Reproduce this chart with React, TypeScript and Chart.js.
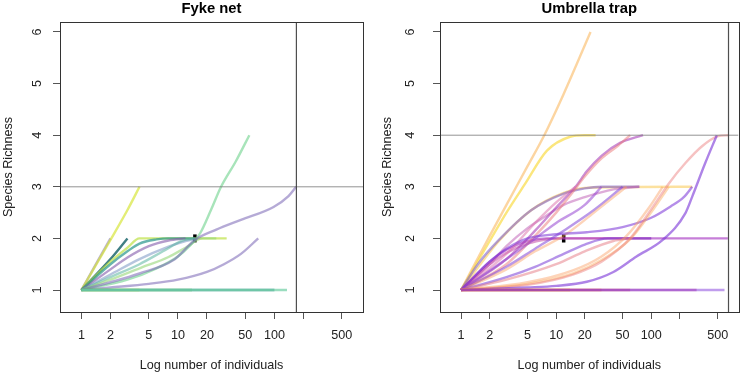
import React, { useEffect, useRef } from 'react';
import { Chart, registerables } from 'chart.js';
Chart.register(...registerables);

type Pt = [number, number];

// ---------- shared axes ----------
const xTicks = [1, 2, 5, 10, 20, 50, 100, 200, 500];
const xTickLabels = ['1', '2', '5', '10', '20', '50', '100', '', '500'];
const yTicks = [1, 2, 3, 4, 5, 6];
const xMin = 0.615;
const xMax = 828;
const yMin = 0.574;
const yMax = 6.194;
const xTitle = 'Log number of individuals';
const yTitle = 'Species Richness';

// ---------- Fyke net (rarefaction curves: [individuals, richness]) ----------
const fykeTitle = 'Fyke net';
const fyke01: Pt[] = [[1, 1], [135, 1]];
const fyke02: Pt[] = [[1, 1], [100, 1]];
const fyke03: Pt[] = [[1, 1], [14, 1]];
const fyke04: Pt[] = [[1, 1], [4, 1]];
const fyke05: Pt[] = [[1, 1], [2, 1.05], [5, 1.12], [10, 1.2], [20, 1.35], [30, 1.5], [45, 1.7], [68, 2]];
const fyke06: Pt[] = [[1, 1], [2, 1.15], [4, 1.32], [9, 1.58], [15, 1.97], [25, 2.17], [45, 2.36], [98, 2.61], [140, 2.82], [168, 3]];
const fyke07: Pt[] = [[1, 1], [3, 1.2], [6, 1.42], [10, 1.65], [13, 1.84], [17, 2.1], [22, 2.55], [28, 3], [40, 3.5], [55, 4]];
const fyke08: Pt[] = [[1, 1], [2, 1.2], [4, 1.42], [8, 1.64], [12, 1.82], [18, 2], [25, 2]];
const fyke09: Pt[] = [[1, 1], [2, 1.25], [4, 1.5], [7, 1.75], [11, 1.95], [15, 2]];
const fyke10: Pt[] = [[1, 1], [2, 1.3], [4, 1.6], [8, 1.84], [12, 1.95], [16, 2]];
const fyke11: Pt[] = [[1, 1], [2, 1.4], [3, 1.63], [5, 1.85], [8, 1.96], [12, 2]];
const fyke12: Pt[] = [[1, 1], [2, 1.5], [3, 1.75], [4, 1.9], [6, 1.98], [8, 2], [15, 2]];
const fyke13: Pt[] = [[1, 1], [2, 1.55], [3, 1.82], [4, 2], [32, 2]];
const fyke14: Pt[] = [[1, 1], [2, 1.6], [3, 2]];
const fyke15: Pt[] = [[1, 1], [2, 1.97], [3, 2.55], [4, 3]];
const fyke16: Pt[] = [[1, 1], [2, 2]];
const fykeCurves = [fyke01, fyke02, fyke03, fyke04, fyke05, fyke06, fyke07, fyke08, fyke09, fyke10, fyke11, fyke12, fyke13, fyke14, fyke15, fyke16];
const fykeMarkerN = 15;
const fykeMarkerS = 2;
const fykeRefN = 169;
const fykeRefS = 3;

// ---------- Umbrella trap ----------
const umbTitle = 'Umbrella trap';
const umb01: Pt[] = [[1, 1], [590, 1]];
const umb02: Pt[] = [[1, 1], [300, 1]];
const umb03: Pt[] = [[1, 1], [60, 1]];
const umb04: Pt[] = [[1, 1], [30, 1]];
const umb05: Pt[] = [[1, 1], [14, 1]];
const umb06: Pt[] = [[1, 1], [5, 1.05], [10, 1.08], [21, 1.16], [40, 1.35], [70, 1.65], [132, 1.97], [229, 2.49], [270, 2.81], [370, 3.46], [490, 4]];
const umb07: Pt[] = [[1, 1], [5, 1.1], [15, 1.3], [30, 1.55], [60, 2], [104, 2.61], [154, 3.07], [229, 3.46], [340, 3.78], [505, 3.98], [650, 4]];
const umb08: Pt[] = [[1, 1], [5, 1.12], [15, 1.32], [30, 1.58], [59, 1.97], [104, 2.55], [153, 3]];
const umb09: Pt[] = [[1, 1], [5, 1.15], [15, 1.38], [30, 1.65], [55, 2.05], [95, 2.6], [132, 3]];
const umb10: Pt[] = [[1, 1], [2, 1.55], [3, 1.8], [5, 2], [10, 2.08], [21, 2.12], [50, 2.22], [100, 2.4], [160, 2.62], [220, 2.8], [270, 3]];
const umb11: Pt[] = [[1, 1], [3, 1.2], [10, 1.5], [20, 1.75], [40, 1.95], [60, 2]];
const umb12: Pt[] = [[1, 1], [3, 1.25], [6, 1.45], [12, 1.7], [20, 1.88], [35, 2], [100, 2]];
const umb13: Pt[] = [[1, 1], [3, 1.4], [6, 1.75], [12, 2.05], [25, 2.5], [55, 3]];
const umb14: Pt[] = [[1, 1], [3, 1.45], [6, 1.8], [12, 2.15], [25, 2.55], [50, 3]];
const umb15: Pt[] = [[1, 1], [3, 1.6], [6, 2], [10, 2.3], [20, 2.65], [30, 3]];
const umb16: Pt[] = [[1, 1], [3, 1.7], [6, 2.3], [10, 2.7], [16, 3]];
const umb17: Pt[] = [[1, 1], [3, 1.5], [6, 2.05], [10, 2.5], [15, 2.9], [20, 3.2], [30, 3.55], [45, 3.8], [60, 4]];
const umb18: Pt[] = [[1, 1], [3, 1.6], [6, 2.15], [10, 2.6], [16, 3], [21, 3.3], [30, 3.6], [47, 3.85], [82, 4]];
const umb19: Pt[] = [[1, 1], [2, 1.5], [3, 1.72], [5, 1.9], [8, 1.98], [12, 2], [100, 2]];
const umb20: Pt[] = [[1, 1], [2, 1.55], [3, 1.78], [5, 1.95], [8, 2], [640, 2]];
const umb21: Pt[] = [[1, 1], [2, 1.5], [3, 1.85], [5, 2.2], [8, 2.45], [12, 2.65], [20, 2.8], [40, 2.95], [75, 3]];
const umb22: Pt[] = [[1, 1], [1.5, 1.5], [2.5, 1.97], [5.5, 2.55], [12, 2.87], [20, 2.97], [30, 3], [75, 3]];
const umb23: Pt[] = [[1, 1], [2.5, 1.95], [5.5, 2.55], [12, 2.88], [20, 2.98], [270, 3]];
const umb24: Pt[] = [[1, 1], [2, 1.95], [3, 2.5], [4.76, 3.07], [8, 3.7], [14, 3.97], [20, 4], [26, 4]];
const umb25: Pt[] = [[1, 1], [2, 2.05], [3, 2.65], [5, 3.4], [7.5, 4], [12, 4.8], [23, 6]];
const umbCurves = [umb01, umb02, umb03, umb04, umb05, umb06, umb07, umb08, umb09, umb10, umb11, umb12, umb13, umb14, umb15, umb16, umb17, umb18, umb19, umb20, umb21, umb22, umb23, umb24, umb25];
const umbMarkerN = 12;
const umbMarkerS = 2;
const umbRefN = 650;
const umbRefS = 4;

// ---------- styles ----------
const fykeColors = [
  'rgba(120,210,170,0.75)', 'rgba(40,140,135,0.8)', 'rgba(110,200,80,0.75)', 'rgba(200,225,60,0.75)',
  'rgba(120,100,180,0.55)', 'rgba(120,100,180,0.55)', 'rgba(110,210,140,0.6)', 'rgba(150,215,120,0.6)',
  'rgba(90,180,160,0.55)', 'rgba(110,140,190,0.5)', 'rgba(130,90,170,0.6)', 'rgba(40,150,140,0.7)',
  'rgba(190,225,70,0.7)', 'rgba(30,105,110,0.85)', 'rgba(215,230,60,0.7)', 'rgba(130,110,190,0.55)'
];
const umbColors = [
  'rgba(130,60,220,0.5)', 'rgba(190,50,150,0.5)', 'rgba(225,100,100,0.5)', 'rgba(240,140,60,0.55)', 'rgba(250,200,40,0.8)',
  'rgba(120,50,215,0.6)', 'rgba(235,120,120,0.45)', 'rgba(250,170,90,0.45)', 'rgba(250,160,100,0.45)', 'rgba(120,50,215,0.55)',
  'rgba(230,120,130,0.5)', 'rgba(120,60,215,0.55)', 'rgba(250,160,100,0.45)', 'rgba(130,70,215,0.55)', 'rgba(150,70,210,0.55)',
  'rgba(220,110,170,0.5)', 'rgba(235,120,120,0.5)', 'rgba(160,50,180,0.55)', 'rgba(190,60,160,0.5)', 'rgba(160,40,190,0.6)',
  'rgba(190,90,180,0.5)', 'rgba(120,90,200,0.55)', 'rgba(250,200,80,0.55)', 'rgba(250,220,70,0.7)', 'rgba(250,190,110,0.65)'
];

const FONT = '"Liberation Sans", Arial, Helvetica, sans-serif';
const LABEL_SIZE = 12.6;

const rPlot = {
  id: 'rPlot',
  afterDraw(chart: any) {
    const { ctx, chartArea: a, scales } = chart;
    ctx.save();
    ctx.strokeStyle = '#333';
    ctx.lineWidth = 1;
    ctx.strokeRect(Math.round(a.left) + 0.5, Math.round(a.top) + 0.5, Math.round(a.right - a.left), Math.round(a.bottom - a.top));
    ctx.fillStyle = '#222';
    ctx.font = `${LABEL_SIZE}px ${FONT}`;
    ctx.textAlign = 'center';
    ctx.textBaseline = 'middle';
    for (const v of yTicks) {
      const py = scales.y.getPixelForValue(v);
      ctx.save();
      ctx.translate(37.5, py);
      ctx.rotate(-Math.PI / 2);
      ctx.fillText(String(v), 0, 0);
      ctx.restore();
    }
    ctx.restore();
  },
};

function buildConfig(title: string, curves: Pt[][], colors: string[], markerN: number, markerS: number, refN: number, refS: number, yWidth: number, yTitlePad: number, rightPad: number): any {
  const datasets: any[] = curves.map((c, i) => ({
    data: c.map(([x, y]) => ({ x, y })),
    borderColor: colors[i % colors.length],
    borderWidth: 2.4,
    pointRadius: 0,
    fill: false,
    cubicInterpolationMode: 'monotone',
  }));
  datasets.unshift({
    data: [{ x: xMin, y: refS }, { x: xMax, y: refS }],
    borderColor: 'rgba(120,120,120,0.8)',
    borderWidth: 1,
    pointRadius: 0,
  });
  datasets.unshift({
    data: [{ x: refN, y: yMin }, { x: refN, y: yMax }],
    borderColor: 'rgba(60,60,60,0.9)',
    borderWidth: 1.2,
    pointRadius: 0,
  });
  datasets.push({
    data: [{ x: markerN, y: markerS }],
    showLine: false,
    pointStyle: 'line',
    rotation: 90,
    pointRadius: 4,
    borderWidth: 3.5,
    borderColor: '#000',
  });
  return {
    type: 'line',
    data: { datasets },
    plugins: [rPlot],
    options: {
      animation: false,
      responsive: false,
      devicePixelRatio: 1,
      layout: { padding: { left: 0, right: rightPad, top: 0, bottom: 0 } },
      plugins: {
        legend: { display: false },
        tooltip: { enabled: false },
        title: {
          display: true,
          text: title,
          fullSize: false,
          color: '#000',
          font: { family: FONT, size: 14.8, weight: 'bold', lineHeight: 1.2 },
          padding: { top: 0, bottom: 4.2 },
        },
      },
      scales: {
        x: {
          type: 'logarithmic',
          min: xMin,
          max: xMax,
          afterFit: (s: any) => { s.height = 61; },
          afterBuildTicks: (s: any) => { s.ticks = xTicks.map((v) => ({ value: v })); },
          ticks: {
            autoSkip: false,
            maxRotation: 0,
            minRotation: 0,
            padding: 8.5,
            color: '#222',
            font: { family: FONT, size: LABEL_SIZE },
            callback: (v: any) => xTickLabels[xTicks.indexOf(Number(v))] ?? '',
          },
          grid: { drawOnChartArea: false, drawTicks: true, tickLength: 7, color: '#555' },
          border: { display: false },
          title: { display: true, text: xTitle, color: '#222', font: { family: FONT, size: LABEL_SIZE }, padding: { top: 0, bottom: 0 } },
        },
        y: {
          type: 'linear',
          min: yMin,
          max: yMax,
          afterFit: (s: any) => { s.width = yWidth; },
          afterBuildTicks: (s: any) => { s.ticks = yTicks.map((v) => ({ value: v })); },
          ticks: { color: 'rgba(0,0,0,0)', font: { family: FONT, size: LABEL_SIZE } },
          grid: { drawOnChartArea: false, drawTicks: true, tickLength: 7, color: '#555' },
          border: { display: false },
          title: { display: true, text: yTitle, color: '#222', font: { family: FONT, size: LABEL_SIZE }, padding: { top: yTitlePad, bottom: 0 } },
        },
      },
    },
  };
}

function Panel(props: { cfg: () => any; left: number }) {
  const ref = useRef<HTMLCanvasElement>(null);
  useEffect(() => {
    if (!ref.current) return;
    const chart = new Chart(ref.current, props.cfg());
    return () => chart.destroy();
  }, []);
  return (
    <canvas ref={ref} width={373} height={373} style={{ position: 'absolute', left: props.left, top: 0, width: 373, height: 373 }} />
  );
}

export default function App() {
  useEffect(() => {
    document.body.style.margin = '0';
    document.body.style.background = '#fff';
  }, []);
  return (
    <div style={{ position: 'relative', width: 746, height: 373, background: '#fff' }}>
      <Panel left={0} cfg={() => buildConfig(fykeTitle, fykeCurves, fykeColors, fykeMarkerN, fykeMarkerS, fykeRefN, fykeRefS, 60, 1.0, 10)} />
      <Panel left={373} cfg={() => buildConfig(umbTitle, umbCurves, umbColors, umbMarkerN, umbMarkerS, umbRefN, umbRefS, 67, 7.2, 2)} />
    </div>
  );
}
